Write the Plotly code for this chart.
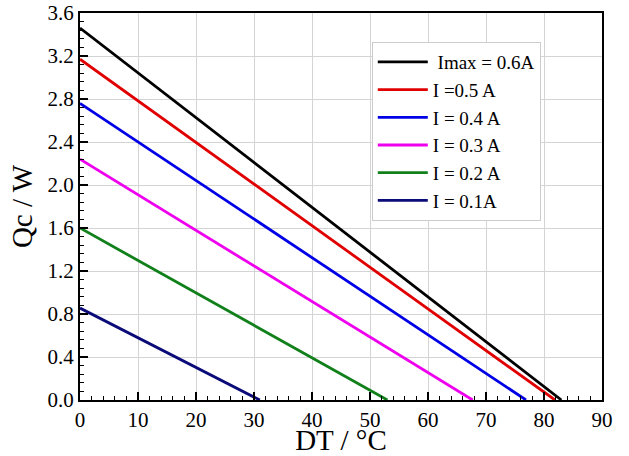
import plotly.graph_objects as go

labels = [" Imax = 0.6A", "I =0.5 A", "I = 0.4 A", "I = 0.3 A", "I = 0.2 A", "I = 0.1A"]
qc_max = [3.46, 3.17, 2.76, 2.24, 1.60, 0.855]
dt_max = [83.0, 81.9, 76.9, 67.7, 53.0, 31.0]
colors = ["#000000", "#e00000", "#0000e6", "#ee00ee", "#11801a", "#0a0a78"]

fig = go.Figure()
for lab, q, d, c in zip(labels, qc_max, dt_max, colors):
    fig.add_trace(go.Scatter(x=[0, d], y=[q, 0], mode="lines", name=lab,
                             line=dict(color=c, width=2.8)))

font = "Liberation Serif, Times New Roman, serif"
axis_common = dict(
    showline=True, linecolor="black", linewidth=2, mirror=True,
    ticks="inside", ticklen=8, tickwidth=1.5, tickcolor="black",
    showgrid=True, gridcolor="#d4d4d4", gridwidth=1,
    zeroline=False, automargin=False, ticklabeloverflow="allow",
    tickfont=dict(family=font, size=21, color="black"),
)
fig.update_xaxes(range=[0, 90], dtick=10, tick0=0,
                 minor=dict(ticks="inside", ticklen=4, tickwidth=1.2, tickcolor="black", dtick=2, showgrid=False),
                 title=dict(text="DT / °C", font=dict(family=font, size=29, color="black"), standoff=3),
                 **axis_common)
fig.update_yaxes(range=[0, 3.6], dtick=0.4, tick0=0, tickformat=".1f",
                 minor=dict(ticks="inside", ticklen=4, tickwidth=1.2, tickcolor="black", dtick=0.08, showgrid=False),
                 title=dict(text="Qc / W", font=dict(family=font, size=29, color="black"), standoff=6),
                 **axis_common)

fig.update_layout(
    width=629, height=456,
    margin=dict(l=80, r=27, t=13, b=56),
    paper_bgcolor="white", plot_bgcolor="white",
    showlegend=True,
    legend=dict(x=0.559, y=0.925, xanchor="left", yanchor="top",
                bgcolor="white", bordercolor="#cccccc", borderwidth=1,
                font=dict(family=font, size=19, color="black"),
                tracegroupgap=0, itemwidth=50),
)

fig.write_html("out.html",
               config={"displayModeBar": False},
               post_script="document.body.style.margin='0';document.body.style.padding='0';")
